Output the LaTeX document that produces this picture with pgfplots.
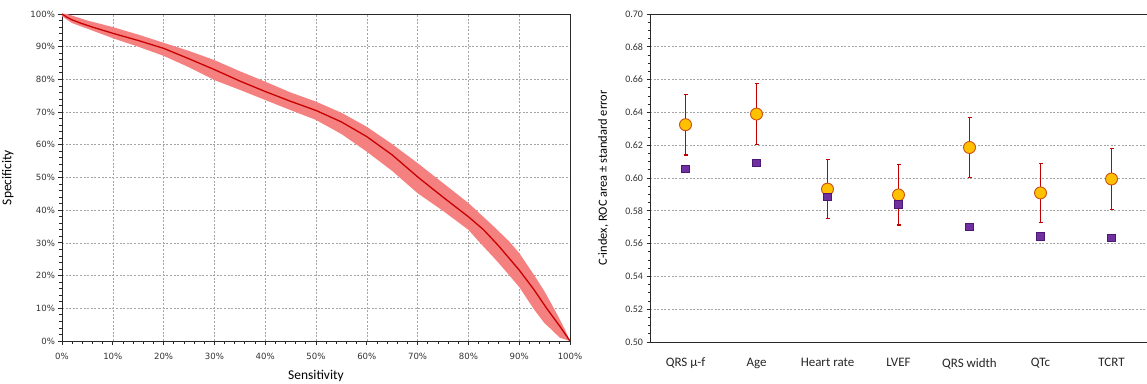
\documentclass[border=0pt]{standalone}
\usepackage{pgfplots}
\pgfplotsset{compat=1.18}
\usepackage{fontspec}
\setmainfont{Carlito}
\newfontfamily\dejavu{DejaVu Sans}
\definecolor{bandcol}{RGB}{245,128,128}
\definecolor{linecol}{RGB}{200,0,0}
\definecolor{gridcol}{RGB}{165,165,165}
\definecolor{circfill}{RGB}{255,192,0}
\definecolor{circdraw}{RGB}{200,80,20}
\definecolor{sqfill}{RGB}{112,48,160}
\definecolor{sqdraw}{RGB}{75,25,115}
\definecolor{errcol}{RGB}{192,0,0}
\definecolor{axcol}{RGB}{40,40,40}
\begin{document}
\begin{tikzpicture}
\useasboundingbox (0bp,0bp) rectangle (1147bp,384bp);
% ---------------- Left: ROC ----------------
\begin{axis}[
  at={(62bp,43bp)}, anchor=south west, scale only axis,
  width=508bp, height=327bp,
  xmin=0, xmax=100, ymin=0, ymax=100,
  xtick={0,10,...,100}, ytick={0,10,...,100},
  xticklabels={0\%,10\%,20\%,30\%,40\%,50\%,60\%,70\%,80\%,90\%,100\%},
  yticklabels={0\%,10\%,20\%,30\%,40\%,50\%,60\%,70\%,80\%,90\%,100\%},
  minor tick num=4,
  tick pos=left, tick align=outside,
  major tick length=3.5bp, minor tick length=2.5bp,
  tick style={axcol, line width=0.8bp},
  axis line style={axcol, line width=0.9bp},
  grid=major,
  major grid style={gridcol, dash pattern=on 2bp off 1.6bp, line width=0.6bp},
  ticklabel style={font=\dejavu\fontsize{8.6}{10}\selectfont, text=black!80},
  xticklabel style={yshift=-5bp},
  xlabel={Sensitivity}, ylabel={Specificity},
  label style={font=\fontsize{13.5}{15}\selectfont},
  xlabel style={yshift=-4bp},
  ylabel style={yshift=10bp},
]
\addplot[fill=bandcol, draw=none] coordinates {
(0,100)(1,100)(3,99)(5,98)(10,96)(15,93.7)(20,91.2)(25,88.7)(30,85.9)(35,82.5)(40,79.3)(45,76)(50,73.2)(55,69.8)(60,65.5)(65,60.2)(70,54.4)(75,48.3)(80,42.2)(85,35)(88,30.5)(90,26.9)(93,20)(95,15.1)(97,9.5)(99,3.5)(100,0)
(98,1)(96,4)(95,5.4)(93,9.5)(90,16.5)(87,22)(85,25.5)(82,30.5)(80,34)(75,39.8)(70,45.2)(65,52)(60,57.9)(55,63.3)(50,67.6)(45,70.6)(40,73.7)(35,76.8)(30,79.8)(25,83.7)(20,87.2)(15,90)(10,92.6)(5,95.5)(2,97.2)(0,99.3)
};
\addplot[linecol, line width=1.3bp, mark=none] coordinates {
(0,100)(1,99)(2,98.2)(3.5,97.3)(6,96)(10,94.1)(15,91.9)(20,89.5)(25,86.3)(30,83)(35,79.5)(40,76.3)(45,73.3)(50,70.5)(55,67)(60,62.5)(65,56.9)(70,50.2)(75,44)(80,38)(83,34)(86,29)(90,21.7)(93,15.5)(95.4,10)(98,4.5)(100,0)
};
\end{axis}
% ---------------- Right: C-index ----------------
\begin{axis}[
  at={(650bp,42bp)}, anchor=south west, scale only axis,
  width=497bp, height=328bp,
  xmin=-0.5, xmax=6.5, ymin=0.5, ymax=0.7,
  xtick={0,1,2,3,4,5,6},
  xticklabels={QRS μ-f, Age, Heart rate, LVEF, QRS width, QTc, TCRT},
  ytick={0.5,0.52,0.54,0.56,0.58,0.6,0.62,0.64,0.66,0.68,0.7},
  yticklabels={0.50,0.52,0.54,0.56,0.58,0.60,0.62,0.64,0.66,0.68,0.70},
  minor y tick num=3,
  axis lines*=left,
  x tick style={draw=none},
  y tick style={axcol, line width=0.8bp},
  tick align=outside,
  major tick length=3.5bp, minor tick length=2.5bp,
  axis line style={axcol, line width=0.9bp},
  ymajorgrids,
  major grid style={gridcol, dash pattern=on 2bp off 1.6bp, line width=0.6bp},
  yticklabel style={font=\fontsize{10}{12}\selectfont, text=black!80},
  xticklabel style={font=\fontsize{13}{15}\selectfont, text=black!85, yshift=-9bp},
  ylabel={C-index, ROC area ± standard error},
  ylabel style={font=\fontsize{12.5}{14}\selectfont, yshift=10bp},
  clip=false,
  unbounded coords=jump,
]
\draw[axcol, line width=0.9bp] (rel axis cs:0,1) -- (rel axis cs:1,1);
% error bars: lower and upper ends, separated by gaps
\addplot[errcol, line width=1.5bp, mark=-, mark size=2bp,
  mark options={line width=1.2bp, errcol}]
coordinates {
(0,0.614)(0,0.651) (0,nan)
(1,0.6205)(1,0.6575) (1,nan)
(2,0.5752)(2,0.6112) (2,nan)
(3,0.5713)(3,0.6081) (3,nan)
(4,0.6002)(4,0.637) (4,nan)
(5,0.5729)(5,0.6089) (5,nan)
(6,0.5809)(6,0.6179)
};
\addplot[only marks, mark=*, mark size=6bp,
  mark options={fill=circfill, draw=circdraw, line width=0.9bp}]
coordinates {
(0,0.6325)(1,0.639)(2,0.5932)(3,0.5897)(4,0.6186)(5,0.5909)(6,0.5994)
};
\addplot[only marks, mark=square*, mark size=3.8bp,
  mark options={fill=sqfill, draw=sqdraw, line width=0.6bp}]
coordinates {
(0,0.6055)(1,0.6093)(2,0.5886)(3,0.584)(4,0.5703)(5,0.5646)(6,0.5636)
};
\end{axis}
\end{tikzpicture}
\end{document}
